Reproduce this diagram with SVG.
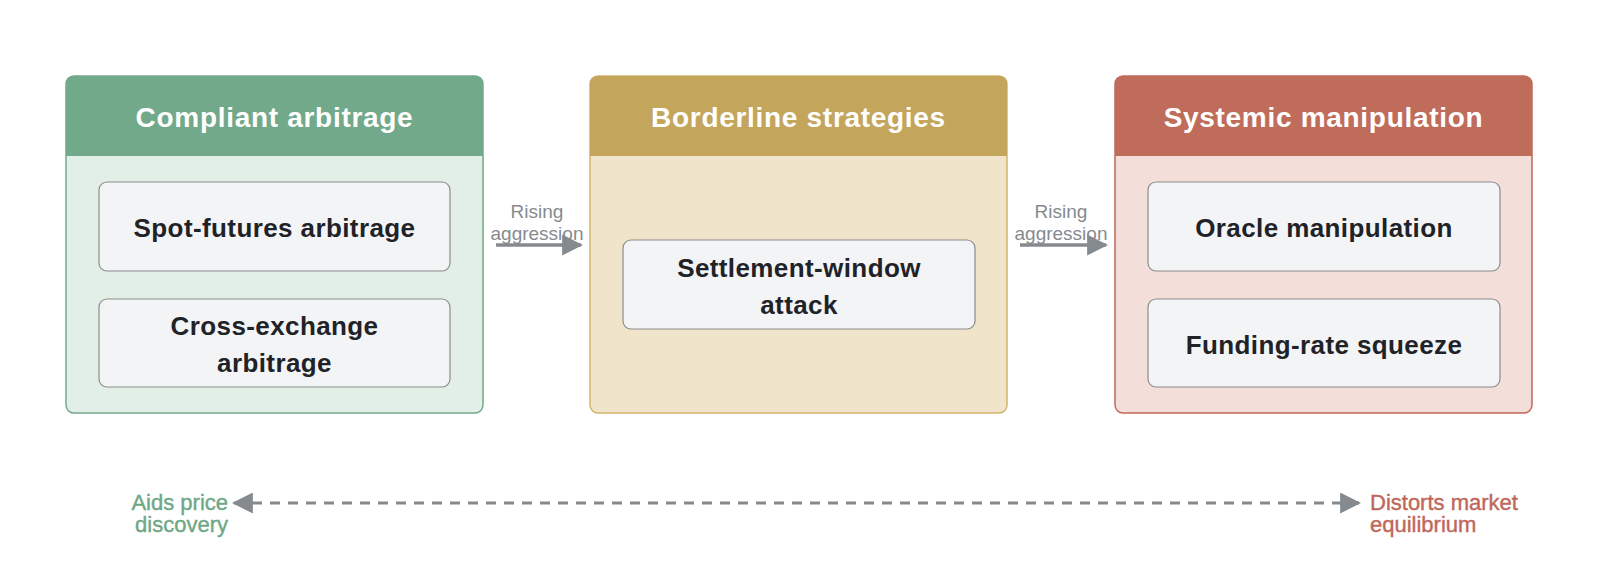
<svg xmlns="http://www.w3.org/2000/svg" width="1600" height="582" viewBox="0 0 1600 582">
<defs>
<style>
.hdr{font-family:"Liberation Sans",Arial,sans-serif;font-weight:bold;font-size:28px;letter-spacing:0.7px;fill:#ffffff;text-anchor:middle;dominant-baseline:central}
.nt{font-family:"Liberation Sans",Arial,sans-serif;font-weight:bold;font-size:26px;letter-spacing:0.4px;fill:#1f2328;text-anchor:middle;dominant-baseline:central}
.node{fill:#f3f4f6;stroke:#8c8c8c;stroke-width:1.2}
.lbl{font-family:"Liberation Sans",Arial,sans-serif;font-size:19px;fill:#868b90;text-anchor:middle;dominant-baseline:central}
.conn{stroke:#858a8f;stroke-width:3.5;fill:none}
.dash{stroke:#858a8f;stroke-width:3;fill:none;stroke-dasharray:10 8}
.endg{font-family:"Liberation Sans",Arial,sans-serif;font-size:22px;fill:#6fa886;stroke:#6fa886;stroke-width:0.4;dominant-baseline:central}
.endr{font-family:"Liberation Sans",Arial,sans-serif;font-size:22px;fill:#c0675a;stroke:#c0675a;stroke-width:0.4;dominant-baseline:central}
</style>
<marker id="ah" viewBox="0 0 10 10" refX="9" refY="5" markerWidth="6" markerHeight="6" markerUnits="strokeWidth" orient="auto-start-reverse">
<path d="M0,0 L10,5 L0,10 Z" fill="#858a8f"/>
</marker>
<marker id="ah2" viewBox="0 0 10 10" refX="9" refY="5" markerWidth="7" markerHeight="7" markerUnits="strokeWidth" orient="auto-start-reverse">
<path d="M0,0 L10,5 L0,10 Z" fill="#858a8f"/>
</marker>
</defs>
<rect width="1600" height="582" fill="#ffffff"/>

<g id="cluster-compliant">
<rect x="66" y="76" width="417" height="337" rx="8" fill="#e2efe7" stroke="#72a98a" stroke-width="1.5"/>
<path d="M66,156 V84 Q66,76 74,76 H475 Q483,76 483,84 V156 Z" fill="#72a98a"/>
<text class="hdr" x="274.5" y="117">Compliant arbitrage</text>
</g>
<g id="node-spot">
<rect class="node" x="99" y="182" width="351" height="89" rx="8"/>
<text class="nt" x="274.5" y="228">Spot-futures arbitrage</text>
</g>
<g id="node-cross">
<rect class="node" x="99" y="299" width="351" height="88" rx="8"/>
<text class="nt" x="274.5" y="326">Cross-exchange</text>
<text class="nt" x="274.5" y="363">arbitrage</text>
</g>

<g id="cluster-borderline">
<rect x="590" y="76" width="417" height="337" rx="8" fill="#f0e4cb" stroke="#d4b46e" stroke-width="1.5"/>
<path d="M590,156 V84 Q590,76 598,76 H999 Q1007,76 1007,84 V156 Z" fill="#c4a55c"/>
<text class="hdr" x="798.5" y="117">Borderline strategies</text>
</g>
<g id="node-settlement">
<rect class="node" x="623" y="240" width="352" height="89" rx="8"/>
<text class="nt" x="799" y="268">Settlement-window</text>
<text class="nt" x="799" y="305">attack</text>
</g>

<g id="cluster-systemic">
<rect x="1115" y="76" width="417" height="337" rx="8" fill="#f3ded9" stroke="#c0675a" stroke-width="1.5"/>
<path d="M1115,156 V84 Q1115,76 1123,76 H1524 Q1532,76 1532,84 V156 Z" fill="#bf6c5b"/>
<text class="hdr" x="1323.5" y="117">Systemic manipulation</text>
</g>
<g id="node-oracle">
<rect class="node" x="1148" y="182" width="352" height="89" rx="8"/>
<text class="nt" x="1324" y="228">Oracle manipulation</text>
</g>
<g id="node-funding">
<rect class="node" x="1148" y="299" width="352" height="88" rx="8"/>
<text class="nt" x="1324" y="345">Funding-rate squeeze</text>
</g>

<g id="connectors">
<line class="conn" x1="496" y1="245" x2="581" y2="245" marker-end="url(#ah)"/>
<text class="lbl" x="537" y="211">Rising</text>
<text class="lbl" x="537" y="233">aggression</text>
<line class="conn" x1="1020" y1="245" x2="1106" y2="245" marker-end="url(#ah)"/>
<text class="lbl" x="1061" y="211">Rising</text>
<text class="lbl" x="1061" y="233">aggression</text>
<line class="dash" x1="234" y1="503" x2="1359" y2="503" marker-start="url(#ah2)" marker-end="url(#ah2)"/>
<text class="endg" x="228" y="502" text-anchor="end">Aids price</text>
<text class="endg" x="228" y="524" text-anchor="end">discovery</text>
<text class="endr" x="1370" y="502">Distorts market</text>
<text class="endr" x="1370" y="524">equilibrium</text>
</g>
</svg>
